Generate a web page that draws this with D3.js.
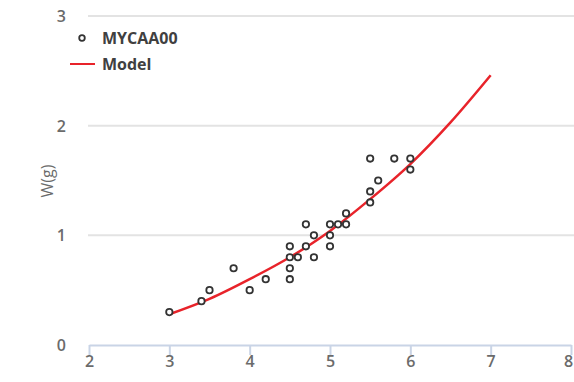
<!DOCTYPE html>
<html><head><meta charset="utf-8">
<script src="https://cdn.jsdelivr.net/npm/d3@7"></script>
<style>body{margin:0;background:#fff}svg{display:block}text{font-family:"Open Sans",sans-serif}</style>
</head><body><svg id="c" width="574" height="382"></svg>
<script>
const obsL = [3,3.4,3.5,3.8,4,4.2,4.5,4.5,4.5,4.5,4.6,4.7,4.7,4.8,4.8,5,5,5,5.1,5.2,5.2,5.5,5.5,5.5,5.6,5.8,6,6];
const obsW = [0.3,0.4,0.5,0.7,0.5,0.6,0.6,0.7,0.8,0.9,0.8,1.1,0.9,1.0,0.8,1.1,1.0,0.9,1.1,1.2,1.1,1.7,1.4,1.3,1.5,1.7,1.7,1.6];
const modelL = [3,3.5,4,4.5,5,5.5,6,6.5,7];
const modelW = [0.28,0.42,0.6,0.8,1.04,1.33,1.65,2.03,2.46];
const xTicks = [2,3,4,5,6,7,8];
const yTicks = [0,1,2,3];
const seriesName = "MYCAA00", modelName = "Model", yLabel = "W(g)";

const svg = d3.select("#c");
const x = d3.scaleLinear().domain([2,8]).range([89,571]);
const y = d3.scaleLinear().domain([0,3]).range([345,16]);

// gridlines
svg.append("g").selectAll("line").data(yTicks.filter(d=>d>0)).join("line")
  .attr("x1",88).attr("x2",574).attr("y1",d=>y(d)).attr("y2",d=>y(d))
  .attr("stroke","#e3e3e3").attr("stroke-width",2);
// y labels
svg.append("g").selectAll("text").data(yTicks).join("text")
  .attr("x",66).attr("y",d=>y(d)+6).attr("text-anchor","end")
  .attr("font-size",16).attr("font-weight",600).attr("fill","#6b6b6b").text(d=>d);
// x axis
const xa = svg.append("g").attr("transform","translate(0,345)")
  .call(d3.axisBottom(x).tickValues(xTicks).tickFormat(d3.format("d")).tickSize(10).tickSizeOuter(0));
xa.select(".domain").attr("stroke","#c9d4e6").attr("stroke-width",2);
xa.selectAll(".tick line").attr("stroke","#c9d4e6").attr("stroke-width",2);
xa.selectAll(".tick text").attr("font-size",16).attr("font-weight",600).attr("fill","#6b6b6b")
  .attr("dy","0.55em").attr("font-family","Open Sans")
  .attr("dx",d=>d===8?-3:0);
// y axis title
svg.append("text").attr("transform","translate(53,181) rotate(-90)")
  .attr("text-anchor","middle").attr("font-size",16).attr("fill","#6b6b6b").text(yLabel);
// model line
svg.append("path").datum(modelL.map((l,i)=>[l,modelW[i]]))
  .attr("d",d3.line().x(d=>x(d[0])).y(d=>y(d[1])).curve(d3.curveMonotoneX))
  .attr("fill","none").attr("stroke","#e8232a").attr("stroke-width",2.5);
// points
svg.append("g").selectAll("circle").data(obsL.map((l,i)=>[l,obsW[i]])).join("circle")
  .attr("cx",d=>x(d[0])).attr("cy",d=>y(d[1])).attr("r",3.2)
  .attr("fill","#fff").attr("stroke","#333").attr("stroke-width",1.8);
// legend
const lg = svg.append("g");
lg.append("circle").attr("cx",82).attr("cy",38).attr("r",2.8).attr("fill","#fff").attr("stroke","#333").attr("stroke-width",1.8);
lg.append("text").attr("x",102).attr("y",44).attr("font-size",16).attr("font-weight","bold").attr("fill","#404040").text(seriesName);
lg.append("line").attr("x1",70).attr("x2",95).attr("y1",64).attr("y2",64).attr("stroke","#e8232a").attr("stroke-width",2);
lg.append("text").attr("x",102).attr("y",70).attr("font-size",16).attr("font-weight","bold").attr("fill","#404040").text(modelName);
</script></body></html>
